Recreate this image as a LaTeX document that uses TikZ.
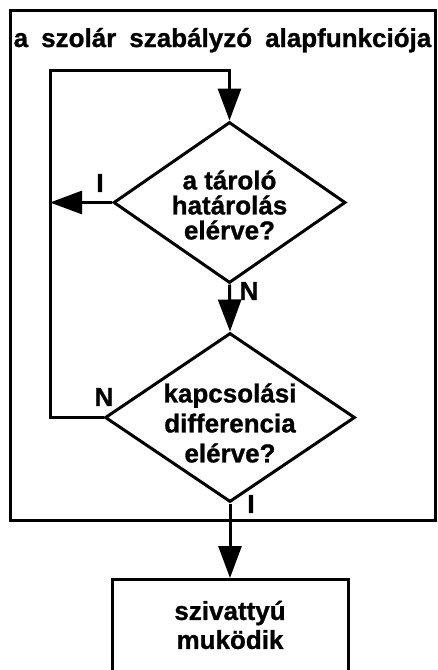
\documentclass[tikz,border=0pt]{standalone}
\usepackage{fontspec}
\setmainfont{Liberation Sans}
\newfontfamily\heavysans{Liberation Sans Bold}[FakeBold=1]
\usetikzlibrary{shapes.geometric,arrows.meta}
\begin{document}
\begin{tikzpicture}[x=1pt,y=-1pt,
  line width=3pt,
  txt/.style={font=\heavysans\fontsize{26}{25}\selectfont, align=center, inner sep=0pt},
  dec/.style={draw, diamond, aspect=1.44, inner xsep=-40pt, inner ysep=-25pt, txt},
  framebox/.style={draw, inner sep=0pt},
  arr/.style={-{Triangle[length=32pt,width=23pt]}},
  lbl/.style={font=\heavysans\fontsize{26}{26}\selectfont, inner sep=0pt}]
\useasboundingbox (0,0) rectangle (437,670);
\clip (0,0) rectangle (437,670);
\node[framebox, minimum width=425, minimum height=510] (frame) at (222.5,265) {};
\node[font=\heavysans\fontsize{26}{26}\selectfont, inner sep=0pt, anchor=base] (title) at (222.5,47) {\spaceskip=13pt a szolár szabályzó alapfunkciója};
\node[dec, minimum width=232, minimum height=161] (d1) at (229.5,202.5) {};
\node[txt] (d1text) at (229.5,205) {a tároló\\határolás\\elérve?};
\node[dec, minimum width=250, minimum height=169] (d2) at (230,417.5) {};
\node[txt, font=\heavysans\fontsize{26}{30}\selectfont] (d2text) at (230,423) {kapcsolási\\differencia\\elérve?};
\node[framebox, minimum width=236, minimum height=160, anchor=north] (pump) at (230,578) {};
\node[txt, font=\heavysans\fontsize{26}{29}\selectfont] (pumptext) at (230,625) {szivattyú\\muködik};
\coordinate (tl) at (50,70);
\draw[arr] (d2.west) -| (tl) -| (d1.north);
\draw[arr] (d1.west) -- (d1.west -| tl);
\draw[arr] (d1.south) -- (d2.north);
\draw[arr] (d2.south) -- (pump.north);
\node[lbl] (l1) at (100,183) {I};
\node[lbl] (l2) at (249,291) {N};
\node[lbl] (l3) at (104,397) {N};
\node[lbl] (l4) at (251,504) {I};
\end{tikzpicture}
\end{document}
